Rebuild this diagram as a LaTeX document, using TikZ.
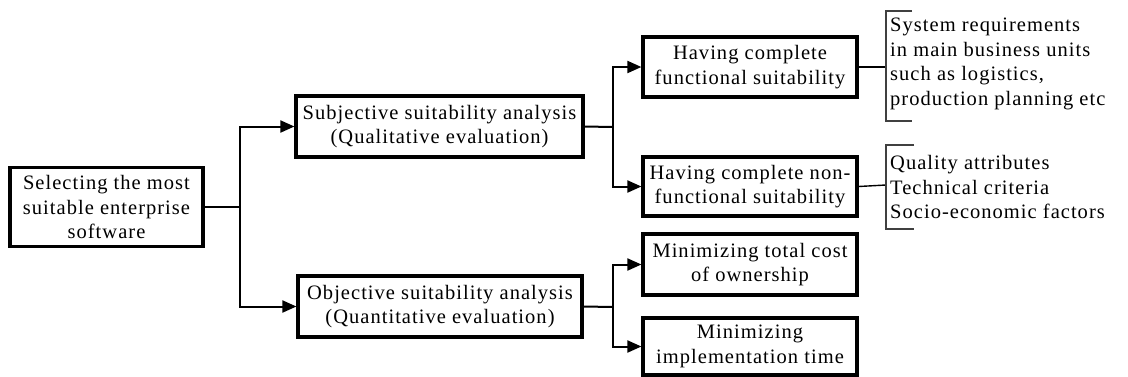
\documentclass[tikz,border=0pt]{standalone}
\usepackage{fontspec}
\setmainfont{Liberation Serif}[LetterSpace=5]
\usetikzlibrary{arrows.meta}
\begin{document}
\begin{tikzpicture}[x=1pt,y=-1pt,
  box/.style={draw, line width=3.2pt, align=center, inner sep=0pt,
    font=\fontsize{20.5}{24.5}\selectfont},
  conn/.style={line width=2pt},
  arr/.style={conn, -{Triangle[length=14pt,width=12pt]}},
  brk/.style={line width=1.1pt, draw=black!75},
  note/.style={align=left, anchor=west, inner sep=0pt,
    font=\fontsize{20.5}{24.5}\selectfont}]
\useasboundingbox (0,0) rectangle (1128,376);
\node[box, minimum width=193pt, minimum height=79pt] (b1) at (106.5,207)
  {Selecting the most\\suitable enterprise\\software};
\node[box, minimum width=287pt, minimum height=61pt] (b2) at (439.5,126.5)
  {Subjective suitability analysis\\(Qualitative evaluation)};
\node[box, minimum width=284pt, minimum height=61pt] (b3) at (440,306.5)
  {Objective suitability analysis\\(Quantitative evaluation)};
\node[box, minimum width=214pt, minimum height=60pt] (b4) at (750,67)
  {Having complete\\functional suitability};
\node[box, minimum width=214pt, minimum height=59pt] (b5) at (750,186.5)
  {Having complete non-\\functional suitability};
\node[box, minimum width=214pt, minimum height=61pt] (b6) at (750,264.5)
  {Minimizing total cost\\of ownership};
\node[box, minimum width=214pt, minimum height=57pt] (b7) at (750,346.5)
  {Minimizing\\implementation time};
\coordinate (j1) at (240,207);
\coordinate (j2) at (613,127);
\coordinate (j3) at (613,307);
\draw[conn] (b1.east) -- (j1);
\draw[arr] (j1) |- (b2.west);
\draw[arr] (j1) |- (b3.west);
\draw[conn] (b2.east) -- (j2);
\draw[arr] (j2) |- (b4.west);
\draw[arr] (j2) |- (b5.west);
\draw[conn] (b3.east) -- (j3);
\draw[arr] (j3) |- (b6.west);
\draw[arr] (j3) |- (b7.west);
% brackets
\coordinate (k1) at (886,67);
\coordinate (k2) at (886,185);
\draw[conn, line width=1.4pt] (b4.east) -- (k1);
\draw[conn, line width=1.4pt] (b5.east) -- (k2);
\draw[brk] (912,11) -- (886,11) -- (886,121) -- (912,121);
\draw[brk] (914,145) -- (886,145) -- (886,229) -- (914,229);
\node[note] (n1) at (890,64) {System requirements\\in main business units\\such as logistics,\\production planning etc};
\node[note] (n2) at (890,187) {Quality attributes\\Technical criteria\\Socio-economic factors};
\end{tikzpicture}
\end{document}
